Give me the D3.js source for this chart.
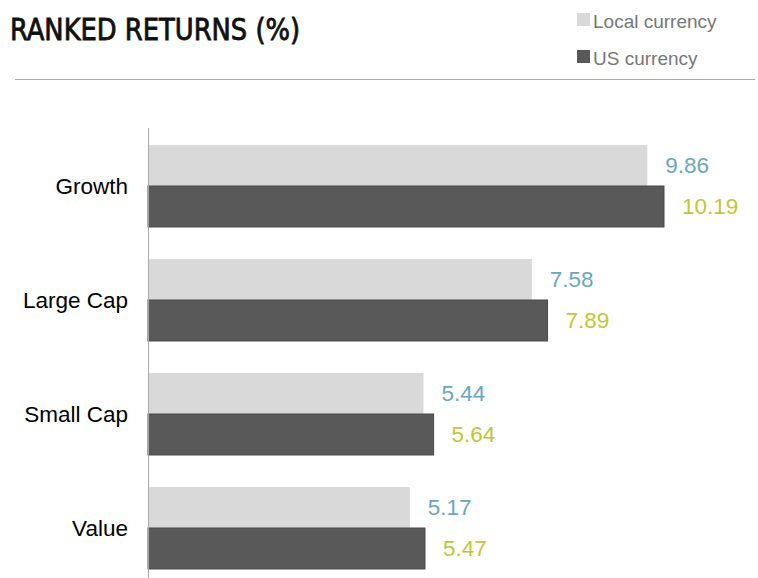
<!DOCTYPE html>
<html>
<head>
<meta charset="utf-8">
<script src="https://cdn.jsdelivr.net/npm/d3@7"></script>
<style>
  body { margin: 0; background: #fff; }
  svg { display: block; font-family: "Liberation Sans", Arial, sans-serif; }
</style>
</head>
<body>
<svg id="chart"></svg>
<script>
// data
const categories = ["Growth", "Large Cap", "Small Cap", "Value"];
const seriesNames = ["Local currency", "US currency"];
const localValues = [9.86, 7.58, 5.44, 5.17];
const usValues = [10.19, 7.89, 5.64, 5.47];

const W = 758, H = 578;
const svg = d3.select("#chart").attr("width", W).attr("height", H);

const barColors = ["#d9d9d9", "#595959"];
const labelColors = ["#6aa6c1", "#c3c637"];

// title
svg.append("text")
    .attr("x", 10)
    .attr("y", 40)
    .attr("font-family", "'DejaVu Sans Condensed', 'DejaVu Sans', sans-serif")
    .attr("font-weight", "normal")
    .attr("font-size", 30)
    .attr("textLength", 290)
    .attr("lengthAdjust", "spacingAndGlyphs")
    .attr("fill", "#111")
    .attr("stroke", "#111")
    .attr("stroke-width", 0.8)
    .text("RANKED RETURNS (%)");

// ligne de séparation
svg.append("line")
    .attr("x1", 15).attr("x2", 755)
    .attr("y1", 79.5).attr("y2", 79.5)
    .attr("stroke", "#aaa").attr("stroke-width", 1);

// legend
const legend = svg.append("g");
seriesNames.forEach((name, i) => {
    const ly = 13 + i * 37;
    legend.append("rect")
        .attr("x", 577).attr("y", ly)
        .attr("width", 13).attr("height", 13)
        .attr("fill", barColors[i]);
    legend.append("text")
        .attr("x", 593).attr("y", ly + 15)
        .attr("font-size", 19)
        .attr("fill", "#777")
        .text(name);
});

// scales
const x0 = 148;
const x = d3.scaleLinear().domain([0, 10.19]).range([x0, 664]);
const y = d3.scaleBand()
    .domain(categories)
    .range([129, 585])
    .paddingInner(32 / 114)
    .paddingOuter(16 / 114);
const yInner = d3.scaleBand().domain([0, 1]).range([0, y.bandwidth()]);

const rows = categories.map((c, i) => ({ cat: c, vals: [localValues[i], usValues[i]] }));

const g = svg.append("g");
rows.forEach(r => {
    r.vals.forEach((v, j) => {
        const by = y(r.cat) + yInner(j);
        g.append("rect")
            .attr("x", x0)
            .attr("y", by)
            .attr("width", x(v) - x0)
            .attr("height", yInner.bandwidth())
            .attr("fill", barColors[j])
            .attr("stroke", j === 1 ? "#4a4a4a" : "none")
            .attr("stroke-width", j === 1 ? 1 : 0);
        g.append("text")
            .attr("x", x(v) + 18)
            .attr("y", by + yInner.bandwidth() / 2)
            .attr("dy", "0.35em")
            .attr("font-size", 22.5)
            .attr("fill", labelColors[j])
            .text(v.toFixed(2));
    });
    g.append("text")
        .attr("x", 128)
        .attr("y", y(r.cat) + y.bandwidth() / 2)
        .attr("dy", "0.35em")
        .attr("text-anchor", "end")
        .attr("font-size", 22.5)
        .attr("fill", "#000")
        .text(r.cat);
});

// axis line
svg.append("line")
    .attr("x1", x0 + 0.5).attr("x2", x0 + 0.5)
    .attr("y1", 128).attr("y2", H)
    .attr("stroke", "#aaa").attr("stroke-width", 1);
</script>
</body>
</html>
